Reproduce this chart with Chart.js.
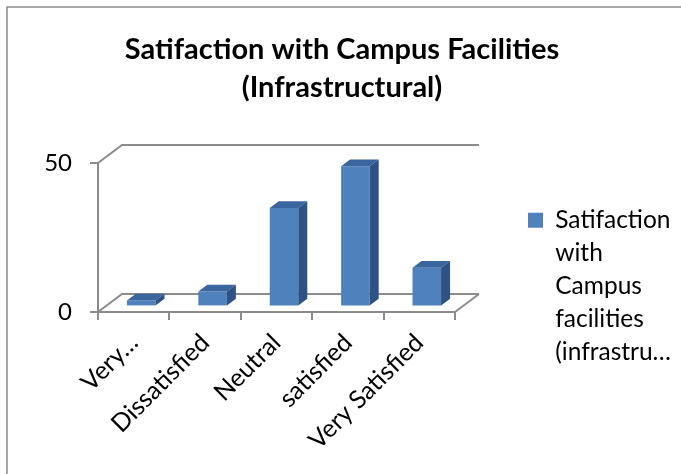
<!DOCTYPE html>
<html><head><meta charset="utf-8">
<script src="https://cdn.jsdelivr.net/npm/chart.js@4/dist/chart.umd.min.js"></script>
<style>html,body{margin:0;padding:0;background:#fff}</style>
</head><body>
<canvas id="c" width="681" height="474"></canvas>
<script>
// ---- data ----
const categories = ['Very…', 'Dissatisfied', 'Neutral', 'satisfied', 'Very Satisfied'];
const values = [2, 5, 33, 47, 13];
const yTicks = [0, 50];
const titleLines = ['Satifaction with Campus Facilities', '(Infrastructural)'];
const seriesName = 'Satifaction with Campus facilities (infrastructural)';
const legendLines = ['Satifaction', 'with', 'Campus', 'facilities', '(infrastru…'];

// ---- style ----
const FONT = 'Lato, "Open Sans", "DejaVu Sans", sans-serif';
const FRONT = '#4F81BD', TOP = '#3B659F', SIDE = '#2E5283';
const LINE = '#8c8c8c';
const DEPTH = {x: 24, y: -18};            // floor / wall depth
const BAR_OFF = {x: 7.5, y: -5.6};        // bar row position inside depth
const BAR_DEPTH = {x: 9, y: -6.75};       // bar thickness
const LEGEND_WIDTH = 226;

const framePlugin = {
  id: 'frame',
  beforeLayout(chart) {
    const lg = chart.legend;
    if (lg && !lg._fixedWidth) {
      const fit = lg.fit;
      lg.fit = function () { fit.call(this); this.width = LEGEND_WIDTH; };
      lg._fixedWidth = true;
    }
  },
  beforeDraw(chart) {
    const ctx = chart.ctx;
    ctx.save();
    ctx.fillStyle = '#fff';
    ctx.fillRect(0, 0, chart.width, chart.height);
    ctx.strokeStyle = '#8a8a8a';
    ctx.lineWidth = 1.5;
    ctx.strokeRect(7, 7, chart.width + 20, chart.height + 20);
    ctx.restore();
  }
};

const threeD = {
  id: 'threeD',
  beforeDatasetsDraw(chart) {
    const {ctx, chartArea: a, scales: {y}} = chart;
    const y0 = y.getPixelForValue(0);
    ctx.save();
    ctx.strokeStyle = LINE;
    ctx.lineWidth = 2;
    ctx.beginPath();
    ctx.moveTo(a.right, y0);
    ctx.lineTo(a.right + DEPTH.x, y0 + DEPTH.y);
    y.ticks.forEach(t => {
      const py = y.getPixelForValue(t.value);
      ctx.moveTo(a.left, py);
      ctx.lineTo(a.left + DEPTH.x, py + DEPTH.y);
      ctx.lineTo(a.right + DEPTH.x, py + DEPTH.y);
    });
    ctx.stroke();
    ctx.restore();
    ctx.save();
    ctx.translate(BAR_OFF.x, BAR_OFF.y);
  },
  afterDatasetsDraw(chart) {
    const ctx = chart.ctx;
    const meta = chart.getDatasetMeta(0);
    meta.data.forEach(bar => {
      const {x, y, base, width} = bar.getProps(['x', 'y', 'base', 'width'], true);
      const l = x - width / 2, r = x + width / 2;
      ctx.fillStyle = TOP;
      ctx.beginPath();
      ctx.moveTo(l, y); ctx.lineTo(r, y);
      ctx.lineTo(r + BAR_DEPTH.x, y + BAR_DEPTH.y);
      ctx.lineTo(l + BAR_DEPTH.x, y + BAR_DEPTH.y);
      ctx.closePath(); ctx.fill();
      ctx.fillStyle = SIDE;
      ctx.beginPath();
      ctx.moveTo(r, y);
      ctx.lineTo(r + BAR_DEPTH.x, y + BAR_DEPTH.y);
      ctx.lineTo(r + BAR_DEPTH.x, base + BAR_DEPTH.y);
      ctx.lineTo(r, base);
      ctx.closePath(); ctx.fill();
    });
    ctx.restore();
  }
};

new Chart(document.getElementById('c'), {
  type: 'bar',
  data: {
    labels: categories,
    datasets: [{
      label: seriesName,
      data: values,
      backgroundColor: FRONT,
      borderWidth: 0,
      barPercentage: 0.4,
      categoryPercentage: 1.0,
      clip: false
    }]
  },
  options: {
    responsive: false,
    animation: false,
    devicePixelRatio: 1,
    layout: {padding: {left: 3, right: 0, top: 0, bottom: 28}},
    plugins: {
      tooltip: {enabled: false},
      title: {
        display: true,
        text: titleLines,
        color: '#000',
        font: {family: FONT, size: 29, weight: 'bold', lineHeight: 38 / 29},
        padding: {top: 31, bottom: 56}
      },
      legend: {
        display: true,
        position: 'right',
        align: 'end',
        labels: {
          color: '#000',
          boxWidth: 15,
          boxHeight: 15,
          padding: 73,
          font: {family: FONT, size: 24.5, lineHeight: 33 / 24.5},
          generateLabels: (chart) => chart.data.datasets.map((ds, i) => ({
            text: legendLines,
            fillStyle: ds.backgroundColor,
            strokeStyle: ds.backgroundColor,
            lineWidth: 0,
            hidden: false,
            datasetIndex: i
          }))
        }
      }
    },
    scales: {
      x: {
        grid: {display: true, offset: true, drawOnChartArea: false, tickLength: 8, color: LINE, lineWidth: 2},
        border: {display: true, color: LINE, width: 2},
        ticks: {
          color: '#000', font: {family: FONT, size: 25},
          minRotation: 45, maxRotation: 45, autoSkip: false, padding: 8
        },
        afterFit: s => { s.height = 474 - 28 - 312; }
      },
      y: {
        min: 0, max: 50,
        afterBuildTicks: s => { s.ticks = yTicks.map(v => ({value: v})); },
        grid: {display: true, drawOnChartArea: false, tickLength: 8, color: LINE, lineWidth: 2},
        border: {display: true, color: LINE, width: 2},
        ticks: {color: '#000', font: {family: FONT, size: 24}, padding: 18},
        afterFit: s => { s.width = 95; }
      }
    }
  },
  plugins: [framePlugin, threeD]
});
</script>
</body></html>
